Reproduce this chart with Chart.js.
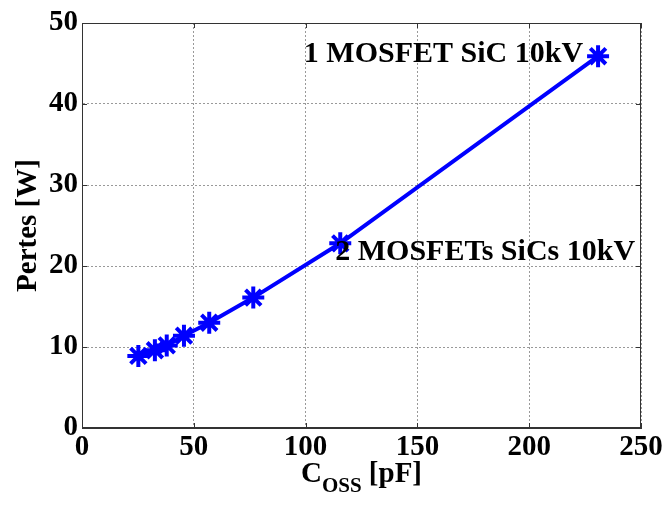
<!DOCTYPE html>
<html>
<head>
<meta charset="utf-8">
<script src="https://cdn.jsdelivr.net/npm/chart.js@4"></script>
<style>
  html, body { margin: 0; padding: 0; background: #fff; }
</style>
</head>
<body>
<canvas id="chart" width="665" height="505"></canvas>
<script>
// données
const coss = [25.2, 32.6, 37.9, 45.6, 56.9, 76.6, 115.5, 230.8];   // pF
const pertes = [8.9, 9.6, 10.2, 11.4, 13.0, 16.1, 22.8, 45.9];     // W
const xTicks = [0, 50, 100, 150, 200, 250];
const yTicks = [0, 10, 20, 30, 40, 50];
const noteIdx = [7, 6];
const noteText = ['1 MOSFET SiC 10kV', '2 MOSFETs SiCs 10kV'];

const FONT = '"Liberation Serif", "Times New Roman", serif';

// boite, graduations internes, annotations et titre de l'axe x
const extras = {
    id: 'extras',
    afterDraw(chart) {
        const ctx = chart.ctx;
        const a = chart.chartArea;
        const x = chart.scales.x, y = chart.scales.y;
        ctx.save();
        ctx.strokeStyle = '#333';
        ctx.lineWidth = 1;
        ctx.strokeRect(a.left + 0.5, a.top + 0.5, a.right - a.left - 1, a.bottom - a.top - 1);

        // petites graduations vers l'intérieur
        ctx.beginPath();
        xTicks.forEach(v => {
            const px = Math.round(x.getPixelForValue(v)) + 0.5;
            ctx.moveTo(px, a.bottom); ctx.lineTo(px, a.bottom - 5);
            ctx.moveTo(px, a.top); ctx.lineTo(px, a.top + 5);
        });
        yTicks.forEach(v => {
            const py = Math.round(y.getPixelForValue(v)) + 0.5;
            ctx.moveTo(a.left, py); ctx.lineTo(a.left + 5, py);
            ctx.moveTo(a.right, py); ctx.lineTo(a.right - 5, py);
        });
        ctx.stroke();

        // annotations
        ctx.fillStyle = '#000';
        ctx.font = 'bold 30px ' + FONT;
        ctx.textBaseline = 'alphabetic';
        let p = noteIdx[0];
        ctx.textAlign = 'right';
        ctx.fillText(noteText[0], x.getPixelForValue(coss[p]) - 15, y.getPixelForValue(pertes[p]) + 6);
        p = noteIdx[1];
        ctx.textAlign = 'left';
        ctx.fillText(noteText[1], x.getPixelForValue(coss[p]) - 5, y.getPixelForValue(pertes[p]) + 17);

        // titre x : C_OSS [pF]
        const big = 'bold 29px ' + FONT, small = 'bold 21px ' + FONT;
        ctx.font = big; const wC = ctx.measureText('C').width;
        const wP = ctx.measureText(' [pF]').width;
        ctx.font = small; const wS = ctx.measureText('OSS').width;
        let sx = (a.left + a.right) / 2 - (wC + wS + wP) / 2;
        const base = 482;
        ctx.textAlign = 'left';
        ctx.font = big; ctx.fillText('C', sx, base); sx += wC;
        ctx.font = small; ctx.fillText('OSS', sx, base + 10); sx += wS;
        ctx.font = big; ctx.fillText(' [pF]', sx, base);
        ctx.restore();
    }
};

new Chart(document.getElementById('chart').getContext('2d'), {
    type: 'scatter',
    data: {
        datasets: [{
            data: coss.map((c, i) => ({ x: c, y: pertes[i] })),
            showLine: true,
            borderColor: '#0000ff',
            backgroundColor: '#0000ff',
            borderWidth: 4,
            pointStyle: 'star',
            pointRadius: 11,
            pointBorderWidth: 4,
            pointBorderColor: '#0000ff'
        }]
    },
    options: {
        responsive: false,
        animation: false,
        devicePixelRatio: 1,
        layout: { padding: { left: 0, right: 24, top: 23, bottom: 0 } },
        plugins: { legend: { display: false }, tooltip: { enabled: false } },
        scales: {
            x: {
                type: 'linear', min: 0, max: 250,
                afterBuildTicks: s => { s.ticks = xTicks.map(v => ({ value: v })); },
                afterFit: s => { s.height = 77; },
                ticks: { color: '#000', padding: 2, font: { family: FONT, size: 29, weight: 'bold' } },
                grid: { color: '#999', drawTicks: false },
                border: { color: '#333', width: 1, dash: [2, 2] }
            },
            y: {
                type: 'linear', min: 0, max: 50,
                afterBuildTicks: s => { s.ticks = yTicks.map(v => ({ value: v })); },
                afterFit: s => { s.width = 82; },
                ticks: { color: '#000', padding: 4, font: { family: FONT, size: 29, weight: 'bold' } },
                grid: { color: '#999', drawTicks: false },
                border: { color: '#333', width: 1, dash: [2, 2] },
                title: {
                    display: true, text: 'Pertes [W]', color: '#000',
                    padding: { top: 11, bottom: 0 },
                    font: { family: FONT, size: 29, weight: 'bold' }
                }
            }
        }
    },
    plugins: [extras]
});
</script>
</body>
</html>
